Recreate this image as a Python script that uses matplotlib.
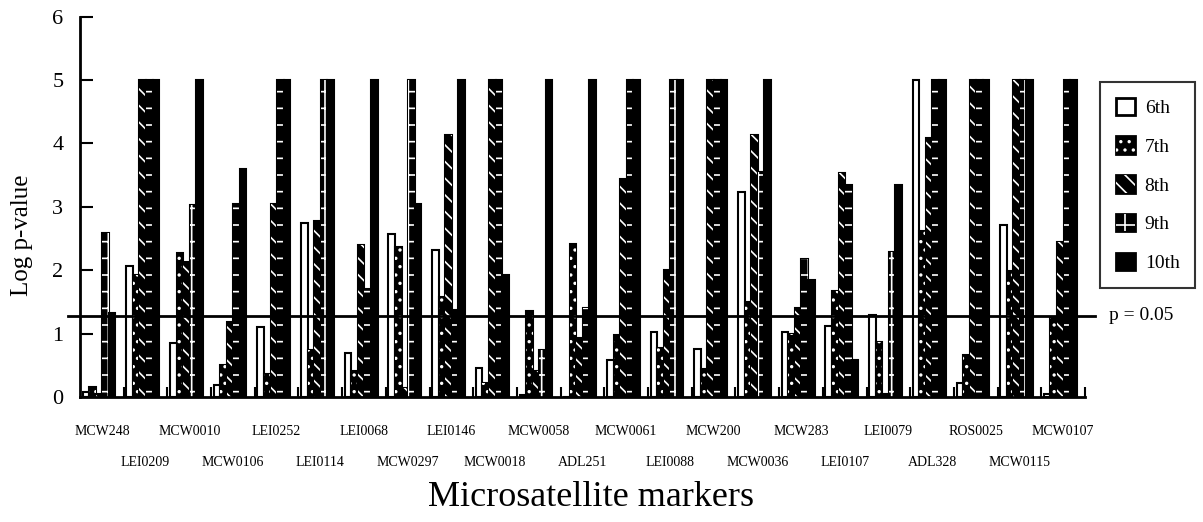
import numpy as np
import matplotlib.pyplot as plt
from matplotlib.patches import Patch
from matplotlib.legend_handler import HandlerTuple

plt.rcParams['font.family'] = ['Liberation Serif', 'DejaVu Serif']
plt.rcParams['hatch.linewidth'] = 1.2

markers = ['MCW248', 'LEI0209', 'MCW0010', 'MCW0106', 'LEI0252', 'LEI0114',
           'LEI0068', 'MCW0297', 'LEI0146', 'MCW0018', 'MCW0058', 'ADL251',
           'MCW0061', 'LEI0088', 'MCW200', 'MCW0036', 'MCW283', 'LEI0107',
           'LEI0079', 'ADL328', 'ROS0025', 'MCW0115', 'MCW0107']

# log p-values per generation, capped at 5 in the figure
gen6 = [0.08, 2.06, 0.85, 0.19, 1.11, 2.74, 0.69, 2.57, 2.32, 0.46, 0.03, 0.0,
        0.58, 1.02, 0.76, 3.24, 1.02, 1.12, 1.30, 5.0, 0.22, 2.72, 0.04]
gen7 = [0.16, 1.92, 2.27, 0.50, 0.37, 0.74, 0.41, 2.36, 1.58, 0.22, 1.35, 2.42,
        0.97, 0.77, 0.44, 1.50, 1.00, 1.67, 0.86, 2.62, 0.67, 1.98, 1.24]
gen8 = [0.05, 5.0, 2.13, 1.19, 3.05, 2.78, 2.40, 0.14, 4.14, 5.0, 0.41, 0.93,
        3.44, 2.00, 5.0, 4.14, 1.41, 3.53, 0.05, 4.09, 5.0, 5.0, 2.45]
gen9 = [2.59, 5.0, 3.03, 3.05, 5.0, 5.0, 1.71, 5.0, 1.37, 5.0, 0.74, 1.41,
        5.0, 5.0, 5.0, 3.55, 2.17, 3.35, 2.29, 5.0, 5.0, 5.0, 5.0]
gen10 = [1.33, 5.0, 5.0, 3.60, 5.0, 5.0, 5.0, 3.05, 5.0, 1.92, 5.0, 5.0,
         5.0, 5.0, 5.0, 5.0, 1.85, 0.58, 3.35, 5.0, 5.0, 5.0, 5.0]
gen_labels = ['6th', '7th', '8th', '9th', '10th']
p_line = 1.28  # -log10(0.05) as drawn

series = [gen6, gen7, gen8, gen9, gen10]
faces = ['white', 'black', 'black', 'black', 'black']
hatches = [None, '..', '\\\\', '+', None]

fig = plt.figure(figsize=(12.03, 5.22), dpi=100)
ax = fig.add_axes([0.0665, 0.2395, 0.8354, 0.7287])

x = np.arange(len(markers))
w = 0.15
handles = []
for k, vals in enumerate(series):
    pos = x + 0.06 + k * w
    ax.bar(pos, vals, width=w, align='edge', color=faces[k],
           edgecolor='black', linewidth=1.5)
    h = Patch(facecolor=faces[k], edgecolor='black', linewidth=2)
    if hatches[k]:
        # white hatch on a black bar
        ax.bar(pos, vals, width=w, align='edge', color='none',
               edgecolor='white', hatch=hatches[k], linewidth=0)
        h = (h, Patch(facecolor='none', edgecolor='white',
                      hatch=hatches[k], linewidth=0))
    handles.append(h)

# significance line runs past both ends of the axis
ax.plot([-0.27, 23.23], [p_line, p_line], color='black', lw=2, clip_on=False)
ax.text(23.55, p_line, 'p = 0.05', va='center', ha='left', fontsize=14)

ax.set_xlim(0, len(markers))
ax.set_ylim(0, 6)
for side in ['top', 'right']:
    ax.spines[side].set_visible(False)
for side in ['left', 'bottom']:
    ax.spines[side].set_linewidth(2)

ax.set_xticks(np.arange(1, len(markers) + 1))
ax.tick_params(axis='x', direction='in', length=7, width=1.5,
               labelbottom=False)
ax.set_yticks(range(7))
ax.tick_params(axis='y', direction='in', length=9, width=1.5,
               labelsize=16, pad=12)

# marker names in two staggered rows
for i, name in enumerate(markers):
    off = -25 if i % 2 == 0 else -47.5
    ax.annotate(name, (i + 0.5, 0), xycoords=('data', 'axes fraction'),
                xytext=(0, off), textcoords='offset points',
                ha='center', va='center', fontsize=10)

fig.text(22 / 1203, 1 - 235 / 522, 'Log p-value', rotation=90,
         ha='center', va='center', fontsize=18)
fig.text(591 / 1203, 1 - 497 / 522, 'Microsatellite markers',
         ha='center', va='center', fontsize=26)

leg = fig.legend(handles, gen_labels,
                 handler_map={tuple: HandlerTuple(ndivide=1)},
                 loc='upper left', bbox_to_anchor=(1100 / 1203, 1 - 82 / 522),
                 frameon=True, fancybox=False, edgecolor='black',
                 fontsize=14, handlelength=1.0, handleheight=1.0,
                 labelspacing=1.0, borderpad=0.8, handletextpad=0.5,
                 borderaxespad=0)
leg.get_frame().set_linewidth(1.5)

fig.savefig('out.png', dpi=100)
